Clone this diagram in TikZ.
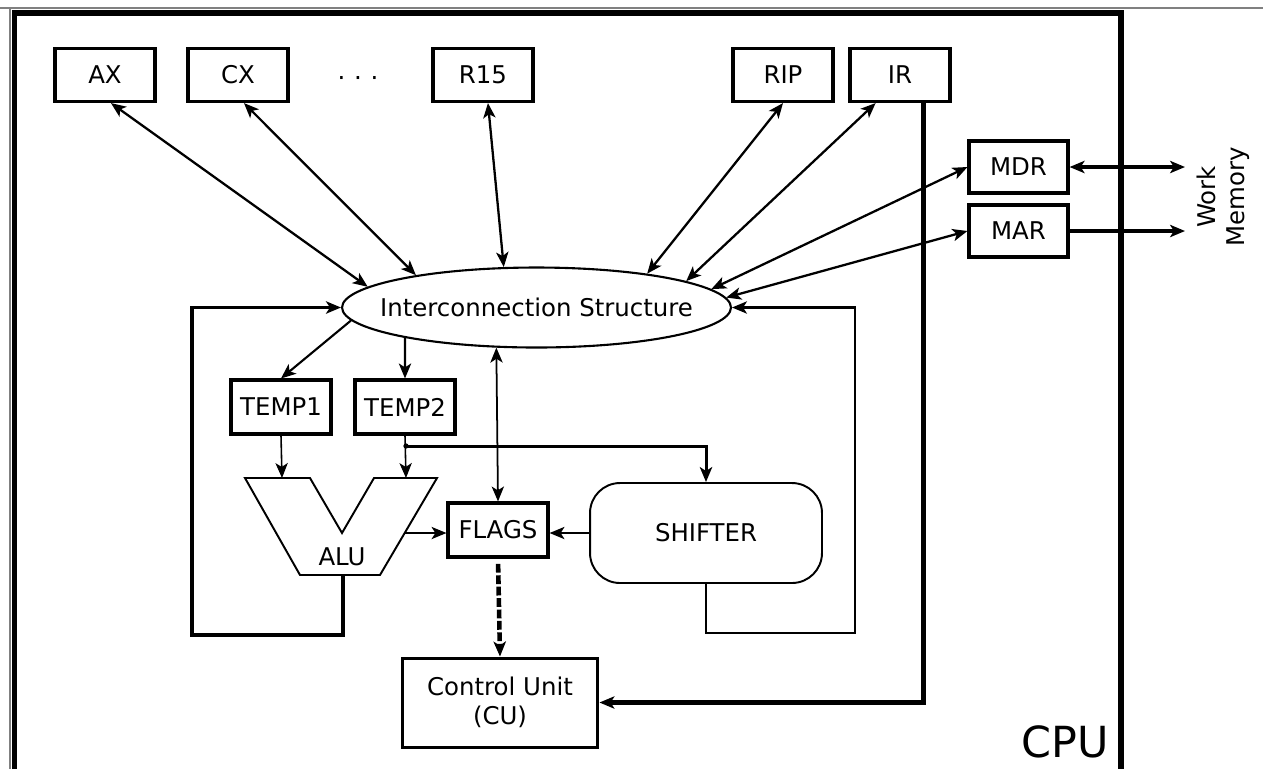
\documentclass[tikz,border=0pt]{standalone}
\usepackage{fontspec}
\setmainfont{DejaVu Sans}
\usepackage{tikz}
\usetikzlibrary{arrows.meta,shapes.geometric}

\tikzset{
    >={Stealth[length=8.5pt,width=7pt,inset=2.2pt]},
    reg/.style={draw,line width=1.8pt,minimum width=2cm,minimum height=1.06cm,inner sep=0pt},
    bus/.style={<->,line width=1.3pt},
    feed/.style={->,line width=0.9pt},
    loopline/.style={->,line width=1.9pt},
    ctrl/.style={->,line width=2.8pt},
    memline/.style={line width=1.9pt}
}

\begin{document}
\begin{tikzpicture}[x=0.02cm,y=-0.02cm,font=\fontsize{13.9}{16.5}\selectfont]
        \useasboundingbox (0,0) rectangle (1263,769);
        \draw[gray,line width=0.6pt] (0,8) -- (1263,8);
        \draw[gray,line width=0.6pt] (10,8) -- (10,769);
        \draw[line width=3pt] (14.5,769) -- (14.5,13) -- (1121,13) -- (1121,769);

        \node[reg] (ax) at (105,75) {AX};
        \node[reg] (cx) at (238,75) {CX};
        \node (dots) at (358,81) {·\hspace{5pt}·\hspace{5pt}·};
        \node[reg] (r15) at (483,75) {R15};
        \node[reg] (rip) at (783,75) {RIP};
        \node[reg] (ir) at (900,75) {IR};
        \node[reg,minimum width=1.98cm,minimum height=1.04cm] (mdr) at (1018.5,167) {MDR};
        \node[reg,minimum width=1.98cm,minimum height=1.04cm] (mar) at (1018.5,231) {MAR};
        \node[rotate=90,align=center] (mem) at (1223,197) {Work\\Memory};
        \node[draw,ellipse,line width=1.2pt,inner xsep=-0.6cm,inner ysep=0pt,minimum width=7.78cm,minimum height=1.6cm] (ics) at (536.5,307.5) {Interconnection Structure};
        \node[reg,minimum height=1.08cm] (temp1) at (281,407) {TEMP1};
        \node[reg,minimum height=1.08cm] (temp2) at (405,407) {TEMP2};
        \node[reg,minimum height=1.08cm] (flags) at (498,530) {FLAGS};
        \node[draw,line width=1.1pt,rounded corners=0.6cm,minimum width=4.64cm,minimum height=2cm] (shifter) at (706,533) {SHIFTER};
        \node[reg,line width=1.7pt,minimum width=3.92cm,minimum height=1.78cm,align=center] (cu) at (500,702.5) {Control Unit\\(CU)};
        \node[font=\fontsize{24.4}{28}\selectfont] (cpu) at (1065,742) {CPU};

        \draw[line width=1.1pt] (245,478) -- (310,478) -- (342,533) -- (374,478) -- (437,478) -- (380,575) -- (300,575) -- cycle;
        \node (alu) at (342,557) {ALU};
        \coordinate (alu-in1) at (282,478);
        \coordinate (alu-in2) at (406,478);
        \coordinate (alu-out) at (405,533);
        \coordinate (alu-bot) at (343,575);
        \coordinate (split) at (406,446);
        \coordinate (loop-l) at (192,635);
        \coordinate (loop-r) at (855,633);
        \coordinate (mem-d) at (1185,167);
        \coordinate (mem-a) at (1185,231);

        \draw[bus] (ax.-78) -- (ics.173);
        \draw[bus] (cx.-78) -- (ics.165);
        \draw[bus] (r15.-80) -- (ics.129);
        \draw[bus] (rip.south) -- (ics.17);
        \draw[bus] (ir.-131) -- (ics.10);
        \draw[bus] (mdr.west) -- (ics.6);
        \draw[bus] (mar.west) -- (ics.3);

        \draw[memline,<->] (mdr.east) -- (mem-d);
        \draw[memline,->] (mar.east) -- (mem-a);
        \draw[ctrl] (ir.-50) |- (cu.east);

        \draw[loopline] (alu-bot) |- (loop-l) |- (ics.west);
        \draw[->,line width=1.2pt] (shifter.south) |- (loop-r) |- (ics.east);

        \draw[->,line width=1.2pt] (ics.184) -- (temp1.north);
        \draw[->,line width=1.2pt] (ics.193) -- (temp2.north);
        \draw[<->,line width=1pt] (ics.225) -- (flags.north);

        \draw[feed] (temp1.south) -- (alu-in1);
        \draw[feed] (temp2.south) -- (alu-in2);
        \fill (split) circle (1.5pt);
        \draw[->,line width=1.7pt] (split) -| (shifter.north);
        \draw[feed] (alu-out) -- (alu-out -| flags.west);
        \draw[feed] (shifter.west) -- (shifter.west -| flags.east);
        \draw[->,line width=2.6pt,dash pattern=on 5pt off 1.5pt,shorten <=3pt] (flags.south) -- (cu.north);
\end{tikzpicture}
\end{document}
